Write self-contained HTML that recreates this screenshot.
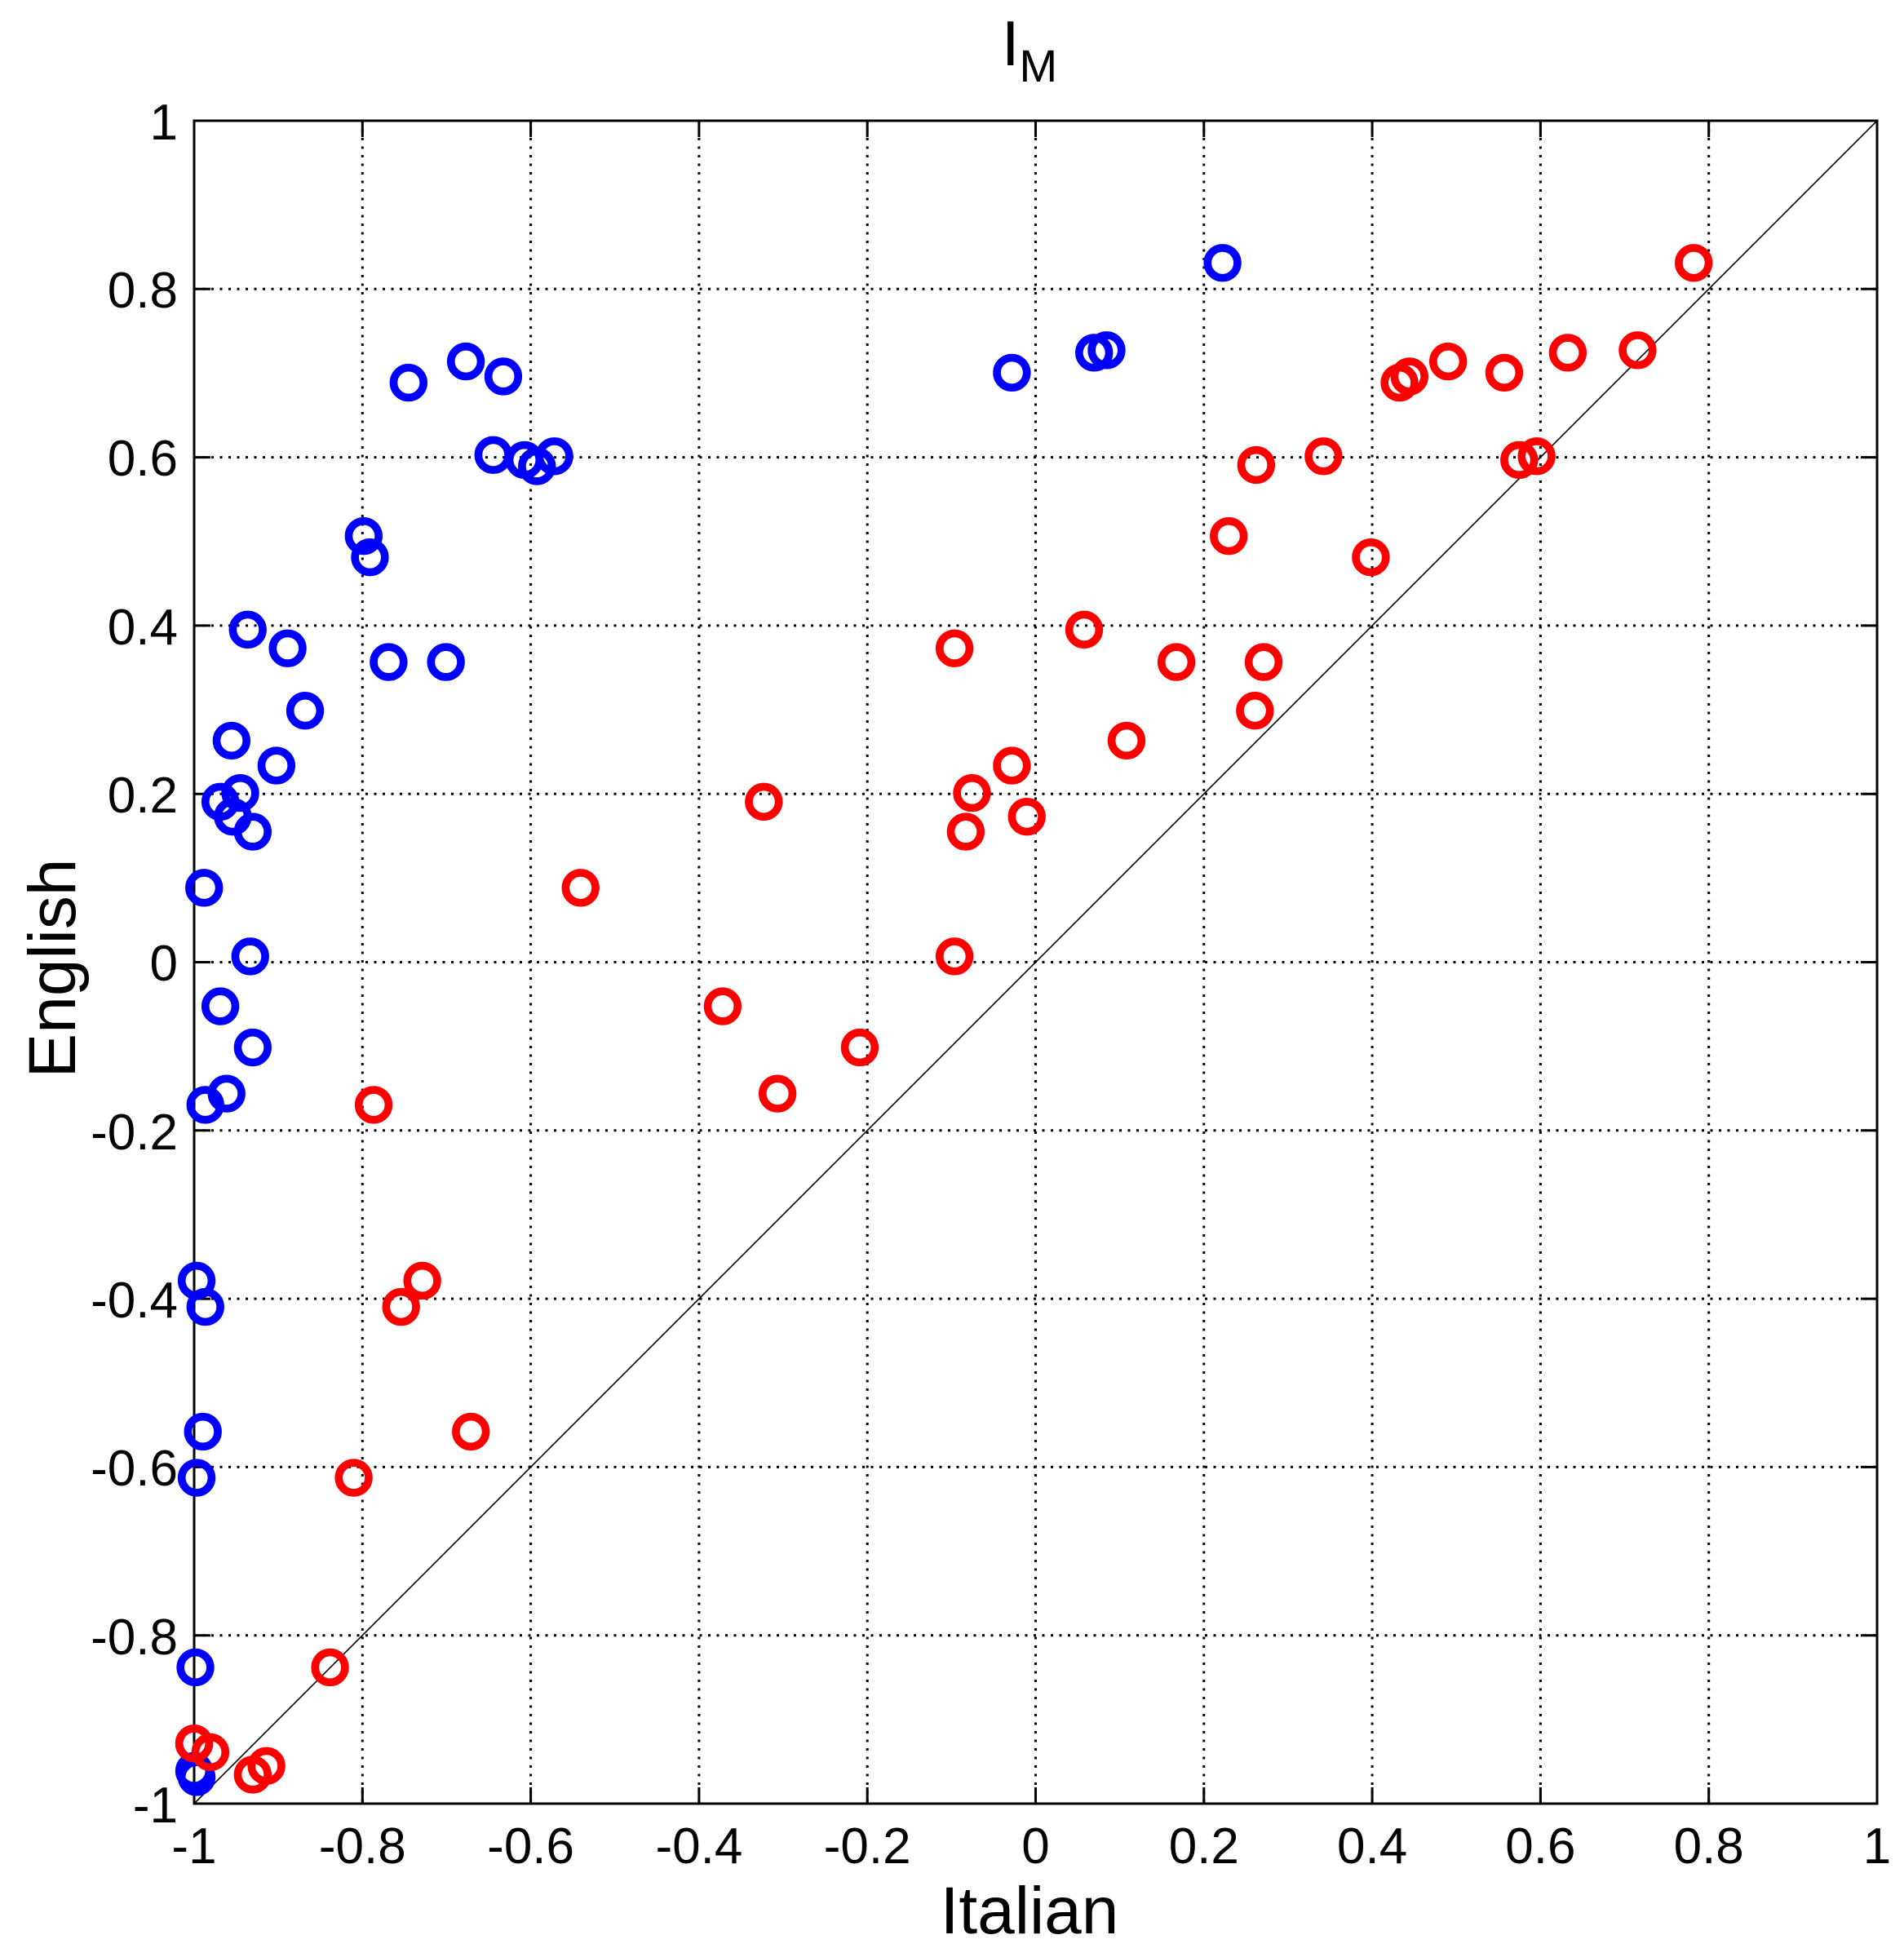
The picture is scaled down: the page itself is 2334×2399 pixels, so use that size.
<!DOCTYPE html>
<html><head><meta charset="utf-8"><style>html,body{margin:0;padding:0;background:#fff}svg{display:block}</style></head>
<body>
<svg xmlns="http://www.w3.org/2000/svg" width="2334" height="2399" viewBox="0 0 2334 2399" font-family="Liberation Sans, sans-serif">
<rect width="2334" height="2399" fill="#fff"/>
<g stroke="#000" stroke-width="3" stroke-dasharray="3,7.5">
<line x1="444.3" y1="148" x2="444.3" y2="2211"/><line x1="650.6" y1="148" x2="650.6" y2="2211"/><line x1="856.9" y1="148" x2="856.9" y2="2211"/><line x1="1063.2" y1="148" x2="1063.2" y2="2211"/><line x1="1269.5" y1="148" x2="1269.5" y2="2211"/><line x1="1475.8" y1="148" x2="1475.8" y2="2211"/><line x1="1682.1" y1="148" x2="1682.1" y2="2211"/><line x1="1888.4" y1="148" x2="1888.4" y2="2211"/><line x1="2094.7" y1="148" x2="2094.7" y2="2211"/>
<line y1="354.3" x1="238" y2="354.3" x2="2301"/><line y1="560.6" x1="238" y2="560.6" x2="2301"/><line y1="766.9" x1="238" y2="766.9" x2="2301"/><line y1="973.2" x1="238" y2="973.2" x2="2301"/><line y1="1179.5" x1="238" y2="1179.5" x2="2301"/><line y1="1385.8" x1="238" y2="1385.8" x2="2301"/><line y1="1592.1" x1="238" y2="1592.1" x2="2301"/><line y1="1798.4" x1="238" y2="1798.4" x2="2301"/><line y1="2004.7" x1="238" y2="2004.7" x2="2301"/>
</g>
<g stroke="#000" stroke-width="3">
<line x1="238" y1="2211" x2="2301" y2="148" stroke-width="1.6"/>
<rect x="238" y="148" width="2063" height="2063" fill="none"/>
<path d="M444.3 2211v-20M650.6 2211v-20M856.9 2211v-20M1063.2 2211v-20M1269.5 2211v-20M1475.8 2211v-20M1682.1 2211v-20M1888.4 2211v-20M2094.7 2211v-20M444.3 148v20M650.6 148v20M856.9 148v20M1063.2 148v20M1269.5 148v20M1475.8 148v20M1682.1 148v20M1888.4 148v20M2094.7 148v20M238 354.3h20M238 560.6h20M238 766.9h20M238 973.2h20M238 1179.5h20M238 1385.8h20M238 1592.1h20M238 1798.4h20M238 2004.7h20M2301 354.3h-20M2301 560.6h-20M2301 766.9h-20M2301 973.2h-20M2301 1179.5h-20M2301 1385.8h-20M2301 1592.1h-20M2301 1798.4h-20M2301 2004.7h-20"/>
</g>
<g font-size="62" text-anchor="middle" fill="#000">
<text x="238" y="2284">-1</text><text x="444.3" y="2284">-0.8</text><text x="650.6" y="2284">-0.6</text><text x="856.9" y="2284">-0.4</text><text x="1063.2" y="2284">-0.2</text><text x="1269.5" y="2284">0</text><text x="1475.8" y="2284">0.2</text><text x="1682.1" y="2284">0.4</text><text x="1888.4" y="2284">0.6</text><text x="2094.7" y="2284">0.8</text><text x="2301" y="2284">1</text>
</g>
<g font-size="62" text-anchor="end" fill="#000">
<text x="218" y="171">1</text><text x="218" y="377">0.8</text><text x="218" y="583">0.6</text><text x="218" y="790">0.4</text><text x="218" y="996">0.2</text><text x="218" y="1202">0</text><text x="218" y="1409">-0.2</text><text x="218" y="1615">-0.4</text><text x="218" y="1821">-0.6</text><text x="218" y="2028">-0.8</text><text x="218" y="2234">-1</text>
</g>
<text x="1262" y="2370" font-size="82" text-anchor="middle">Italian</text>
<text transform="translate(92,1187) rotate(-90)" font-size="82" text-anchor="middle">English</text>
<text x="1262" y="80" font-size="78" text-anchor="middle">I<tspan font-size="56" dy="20">M</tspan></text>
<g transform="translate(238,148) scale(1.528,1.529) translate(-155,-97)" fill="none" stroke-width="6.3">
<g stroke="#0000ff">
<circle cx="980" cy="211" r="12"/><circle cx="811" cy="299" r="12"/><circle cx="877" cy="283" r="12"/><circle cx="887" cy="281" r="12"/><circle cx="373" cy="290" r="12"/><circle cx="403" cy="302" r="12"/><circle cx="327" cy="307" r="12"/><circle cx="395" cy="365" r="12"/><circle cx="420" cy="369" r="12"/><circle cx="430" cy="374" r="12"/><circle cx="444" cy="366" r="12"/><circle cx="291" cy="430" r="12"/><circle cx="296" cy="447" r="12"/><circle cx="311" cy="531" r="12"/><circle cx="357" cy="531" r="12"/><circle cx="198" cy="505" r="12"/><circle cx="230" cy="520" r="12"/><circle cx="244" cy="570" r="12"/><circle cx="185" cy="594" r="12"/><circle cx="221" cy="614" r="12"/><circle cx="192" cy="636" r="12"/><circle cx="176" cy="643" r="12"/><circle cx="186" cy="655" r="12"/><circle cx="202" cy="667" r="12"/><circle cx="163" cy="712" r="12"/><circle cx="200" cy="767" r="12"/><circle cx="176" cy="807" r="12"/><circle cx="202" cy="840" r="12"/><circle cx="164" cy="886" r="12"/><circle cx="181" cy="877" r="12"/><circle cx="157" cy="1027" r="12"/><circle cx="164" cy="1048" r="12"/><circle cx="162" cy="1148" r="12"/><circle cx="157" cy="1185" r="12"/><circle cx="156" cy="1337" r="12"/><circle cx="155" cy="1398" r="12"/><circle cx="155" cy="1420" r="12"/><circle cx="157" cy="1425" r="12"/>
</g>
<g stroke="#ff0000">
<circle cx="1358" cy="211" r="12"/><circle cx="1313" cy="281" r="12"/><circle cx="1257" cy="283" r="12"/><circle cx="1161" cy="290" r="12"/><circle cx="1206" cy="299" r="12"/><circle cx="1130" cy="302" r="12"/><circle cx="1122" cy="307" r="12"/><circle cx="1061" cy="366" r="12"/><circle cx="1007" cy="373" r="12"/><circle cx="1218" cy="369" r="12"/><circle cx="1232" cy="366" r="12"/><circle cx="985" cy="430" r="12"/><circle cx="1099" cy="447" r="12"/><circle cx="869" cy="505" r="12"/><circle cx="765" cy="520" r="12"/><circle cx="943" cy="531" r="12"/><circle cx="1013" cy="531" r="12"/><circle cx="1006" cy="570" r="12"/><circle cx="903" cy="594" r="12"/><circle cx="811" cy="614" r="12"/><circle cx="779" cy="636" r="12"/><circle cx="612" cy="643" r="12"/><circle cx="823" cy="655" r="12"/><circle cx="774" cy="667" r="12"/><circle cx="465" cy="712" r="12"/><circle cx="765" cy="767" r="12"/><circle cx="579" cy="807" r="12"/><circle cx="689" cy="840" r="12"/><circle cx="623" cy="877" r="12"/><circle cx="299" cy="886" r="12"/><circle cx="338" cy="1027" r="12"/><circle cx="321" cy="1048" r="12"/><circle cx="377" cy="1148" r="12"/><circle cx="283" cy="1185" r="12"/><circle cx="264" cy="1337" r="12"/><circle cx="155" cy="1398" r="12"/><circle cx="168" cy="1405" r="12"/><circle cx="213" cy="1416" r="12"/><circle cx="202" cy="1423" r="12"/>
</g>
</g>
</svg>
</body></html>
